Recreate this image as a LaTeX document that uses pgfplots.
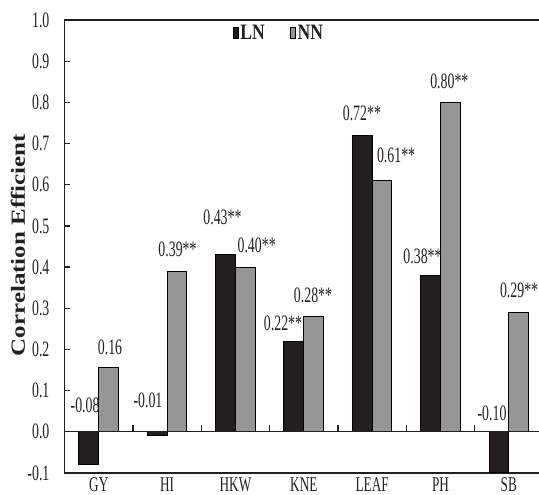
\documentclass[border=0pt]{standalone}
\usepackage{fontspec}
\setmainfont{Liberation Serif}[FakeStretch=0.63]
\newfontfamily\widefont{Liberation Serif}[FakeStretch=1.25]
\newfontfamily\legfont{Liberation Serif}[FakeStretch=0.8]
\usepackage{pgfplots}
\pgfplotsset{compat=1.18}
\definecolor{ink}{HTML}{231F20}
\definecolor{barblack}{HTML}{231F20}
\definecolor{bargray}{HTML}{969696}
\newcommand\lab{\fontsize{22}{24}\selectfont}
\begin{document}
\begin{tikzpicture}[x=1pt,y=1pt]
\begin{axis}[
  at={(64.6pt,22pt)}, anchor=south west,
  scale only axis, width=478.4pt, height=453pt,
  xmin=-0.5, xmax=6.5, ymin=-0.1, ymax=1.0,
  clip=false,
  ybar=0pt, bar width=0.29,
  axis line style={line width=1.2pt, draw=ink},
  xtick={0,1,2,3,4,5,6},
  xticklabels={GY,HI,HKW,KNE,LEAF,PH,SB},
  x tick style={draw=none},
  xticklabel style={font=\fontsize{21}{23}\selectfont, text=ink, inner sep=0pt, anchor=north, yshift=-4.5pt},
  ytick={-0.1,0,0.1,0.2,0.3,0.4,0.5,0.6,0.7,0.8,0.9,1.0},
  ytick pos=left, tick align=inside, major tick length=5pt,
  y tick style={line width=1.2pt, draw=ink},
  yticklabel style={font=\lab, text=ink, inner sep=0pt, xshift=-15pt,
    /pgf/number format/.cd, fixed, fixed zerofill, precision=1, assume math mode=true},
  legend style={at={(0.448,0.971)}, anchor=center, draw=none, fill=none,
    legend columns=2, font=\legfont\bfseries\fontsize{22}{24}\selectfont, text=ink,
    /tikz/every even column/.append style={column sep=24pt},
    nodes={inner sep=1.5pt}},
]
\addplot[fill=barblack, draw=black, line width=1pt,
  legend image code/.code={\draw[fill=barblack,draw=black,line width=0.8pt] (0pt,-5.5pt) rectangle (5pt,5.5pt);}]
  coordinates {(0,-0.08) (1,-0.01) (2,0.43) (3,0.22) (4,0.72) (5,0.38) (6,-0.10)};
\addplot[fill=bargray, draw=black, line width=1pt,
  legend image code/.code={\draw[fill=bargray,draw=black,line width=0.8pt] (0pt,-5.5pt) rectangle (5pt,5.5pt);}]
  coordinates {(0,0.155) (1,0.39) (2,0.40) (3,0.28) (4,0.61) (5,0.80) (6,0.29)};
\legend{LN,NN}
\draw[line width=1.2pt, draw=ink] (axis cs:-0.5,0) -- (axis cs:6.5,0);
\pgfplotsinvokeforeach{0.5,1.5,2.5,3.5,4.5,5.5}{\draw[line width=1.2pt, draw=ink] (axis cs:#1,0) -- ++(0pt,7pt);}
\begin{scope}[every node/.style={font=\lab, text=ink, inner sep=0pt}]
\node at (axis cs:-0.20,0.065) {-0.08};
\node at (axis cs:0.165,0.206) {0.16};
\node at (axis cs:0.72,0.077) {-0.01};
\node at (axis cs:1.152,0.444) {0.39**};
\node at (axis cs:1.81,0.522) {0.43**};
\node at (axis cs:2.31,0.454) {0.40**};
\node at (axis cs:2.696,0.264) {0.22**};
\node at (axis cs:3.135,0.332) {0.28**};
\node at (axis cs:3.85,0.774) {0.72**};
\node at (axis cs:4.35,0.672) {0.61**};
\node at (axis cs:4.737,0.425) {0.38**};
\node at (axis cs:5.13,0.852) {0.80**};
\node at (axis cs:5.754,0.046) {-0.10};
\node at (axis cs:6.15,0.344) {0.29**};
\end{scope}
\end{axis}
\node[rotate=90, text=ink, font=\widefont\bfseries\fontsize{20}{22}\selectfont] at (18pt,250pt) {Correlation Efficient};
\pgfresetboundingbox
\useasboundingbox (0pt,0pt) rectangle (539pt,495pt);
\end{tikzpicture}
\end{document}
